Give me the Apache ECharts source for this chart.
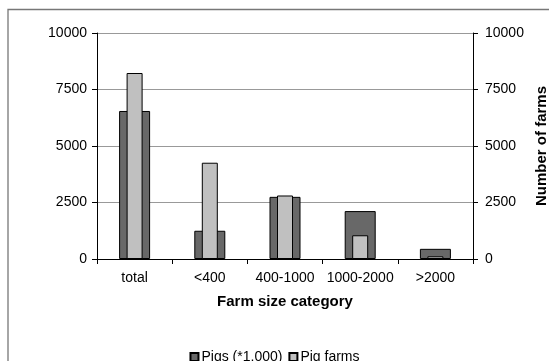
<!DOCTYPE html>
<html>
<head>
<meta charset="utf-8">
<script src="https://cdn.jsdelivr.net/npm/echarts@6/dist/echarts.min.js"></script>
<style>html,body{margin:0;padding:0;background:#fff}#c{width:549px;height:361px}</style>
</head>
<body>
<div id="c"></div>
<script>
const categories = ['total', '<400', '400-1000', '1000-2000', '>2000'];
const pigs = [6550, 1250, 2750, 2120, 450];
const pigFarms = [8230, 4260, 2810, 1050, 120];
const yTicks = [0, 2500, 5000, 7500, 10000];

const font = 'Liberation Sans, Arial, sans-serif';
const chart = echarts.init(document.getElementById('c'), null, {renderer: 'canvas'});
const yAxisBase = {
  type: 'value', min: yTicks[0], max: yTicks[yTicks.length - 1], interval: yTicks[1] - yTicks[0],
  axisLine: {show: true, lineStyle: {color: '#000', width: 1}},
  axisTick: {show: true, length: 5, inside: false, lineStyle: {color: '#000'}},
  axisLabel: {color: '#000', fontSize: 14, fontFamily: font, formatter: v => String(v)},
};
chart.setOption({
  animation: false,
  textStyle: {fontFamily: font},
  graphic: [{
    type: 'rect', shape: {x: 8, y: 9.5, width: 600, height: 400},
    style: {fill: 'none', stroke: '#777', lineWidth: 1.3}, silent: true
  }],
  grid: {left: 97, right: 76, top: 33, bottom: 102, containLabel: false, outerBoundsMode: 'none'},
  legend: {
    top: 345, left: 'center', itemWidth: 8, itemHeight: 8, itemGap: 6,
    icon: 'rect',
    textStyle: {fontSize: 14, color: '#000', fontFamily: font, padding: [0, 0, 0, -2]},
    data: ['Pigs (*1,000)', 'Pig farms']
  },
  xAxis: [{
    type: 'category', data: categories,
    name: 'Farm size category', nameLocation: 'middle', nameGap: 35,
    nameTextStyle: {fontWeight: 'bold', fontSize: 15, color: '#000', fontFamily: font},
    axisLine: {lineStyle: {color: '#000'}},
    axisTick: {show: true, length: 5, alignWithLabel: false, lineStyle: {color: '#000'}},
    axisLabel: {color: '#000', fontSize: 14, margin: 12, fontFamily: font, interval: 0},
    splitLine: {show: false}
  }, {
    type: 'category', data: categories, show: false
  }],
  yAxis: [Object.assign({}, yAxisBase, {
    position: 'left',
    axisLabel: Object.assign({}, yAxisBase.axisLabel, {margin: 10}),
    splitLine: {show: true, lineStyle: {color: '#999', width: 1}}
  }), Object.assign({}, yAxisBase, {
    position: 'right',
    name: 'Number of farms', nameLocation: 'middle', nameGap: 58, nameRotate: 90,
    nameTextStyle: {fontWeight: 'bold', fontSize: 15, color: '#000', fontFamily: font},
    axisLabel: Object.assign({}, yAxisBase.axisLabel, {margin: 12}),
    splitLine: {show: false}
  })],
  series: [{
    name: 'Pigs (*1,000)', type: 'bar', xAxisIndex: 0, yAxisIndex: 0,
    data: pigs, barWidth: 31,
    itemStyle: {color: '#686868', borderColor: '#000', borderWidth: 1}
  }, {
    name: 'Pig farms', type: 'bar', xAxisIndex: 1, yAxisIndex: 1,
    data: pigFarms, barWidth: 16,
    itemStyle: {color: '#c0c0c0', borderColor: '#000', borderWidth: 1}
  }]
});
</script>
</body>
</html>
